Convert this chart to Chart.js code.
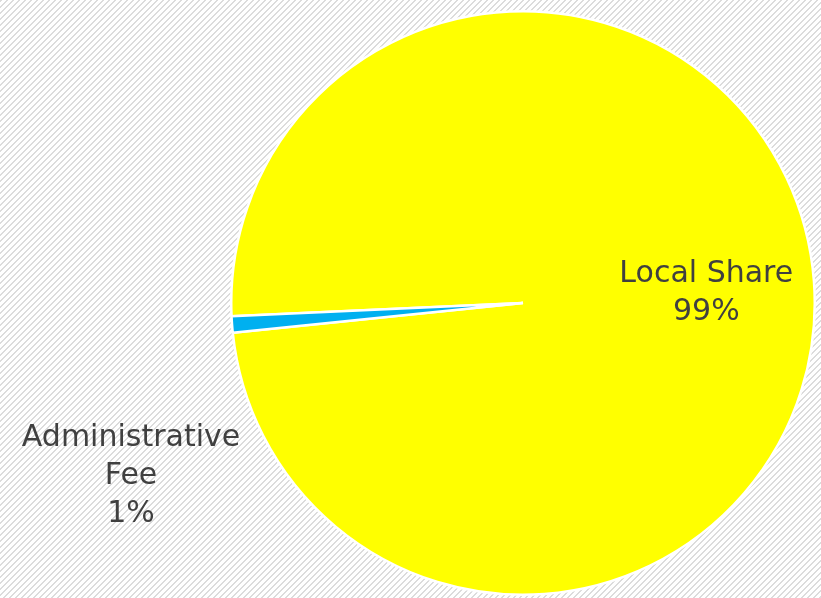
<!DOCTYPE html>
<html>
<head>
<meta charset="utf-8">
<script src="https://cdn.jsdelivr.net/npm/chart.js@4/dist/chart.umd.min.js"></script>
<style>
    html, body { margin: 0; padding: 0; }
    body { width: 821px; height: 598px; overflow: hidden; background: #fff; }
    #wrap { position: relative; width: 821px; height: 598px; }
</style>
</head>
<body>
<div id="wrap"><canvas id="pie" width="821" height="598"></canvas></div>
<script>
// Chart data
const categories = ['Local Share', 'Administrative Fee'];
const shares = [99.1, 0.9];
const sliceColors = ['#FFFF00', '#00B0F0'];
// how each label is broken into lines
const labelLines = [['Local Share'], ['Administrative', 'Fee']];

// Light upward diagonal pattern, like the Excel fill behind the chart
function makeHatch() {
    const tile = document.createElement('canvas');
    tile.width = 6;
    tile.height = 6;
    const ctx = tile.getContext('2d');
    ctx.fillStyle = '#ffffff';
    ctx.fillRect(0, 0, 6, 6);
    ctx.fillStyle = '#dcdcdc';
    for (let y = 0; y < 6; y++) {
        for (let x = 0; x < 6; x++) {
            if ((x + y) % 6 < 2) ctx.fillRect(x, y, 1, 1);
        }
    }
    return tile.toDataURL();
}
document.body.style.backgroundImage = 'url(' + makeHatch() + ')';

// Draws the category + percent labels (no datalabels plugin available offline)
const sliceLabels = {
    id: 'sliceLabels',
    afterDatasetsDraw(chart) {
        const ctx = chart.ctx;
        const meta = chart.getDatasetMeta(0);
        const total = shares.reduce((a, b) => a + b, 0);
        ctx.save();
        ctx.fillStyle = '#404040';
        ctx.font = '30px "DejaVu Sans", sans-serif';
        ctx.textAlign = 'center';
        ctx.textBaseline = 'middle';
        const lineH = 38;
        meta.data.forEach((arc, i) => {
            const p = arc.getProps(['x', 'y', 'startAngle', 'endAngle', 'outerRadius'], true);
            const mid = (p.startAngle + p.endAngle) / 2;
            const lines = labelLines[i].concat([Math.round(shares[i] / total * 100) + '%']);
            let cx, cy;
            if (i === 0) {
                // inside the big slice
                cx = p.x + Math.cos(mid) * p.outerRadius * 0.63;
                cy = p.y + Math.sin(mid) * p.outerRadius * 0.63 + 4;
            } else {
                // outside, down-left of the thin slice
                cx = p.x + Math.cos(mid) * p.outerRadius - 101;
                cy = p.y + Math.sin(mid) * p.outerRadius + 152;
            }
            const top = cy - (lines.length - 1) * lineH / 2;
            lines.forEach((t, k) => ctx.fillText(t, cx, top + k * lineH));
        });
        ctx.restore();
    }
};

new Chart(document.getElementById('pie'), {
    type: 'pie',
    data: {
        labels: categories,
        datasets: [{
            data: shares,
            backgroundColor: sliceColors,
            borderColor: '#ffffff',
            borderWidth: 2.5
        }]
    },
    options: {
        responsive: false,
        animation: false,
        rotation: 267.4,
        layout: { padding: { left: 230, right: 5, top: 10, bottom: 2 } },
        plugins: {
            legend: { display: false },
            tooltip: { enabled: false },
            title: { display: false }
        }
    },
    plugins: [sliceLabels]
});
</script>
</body>
</html>
